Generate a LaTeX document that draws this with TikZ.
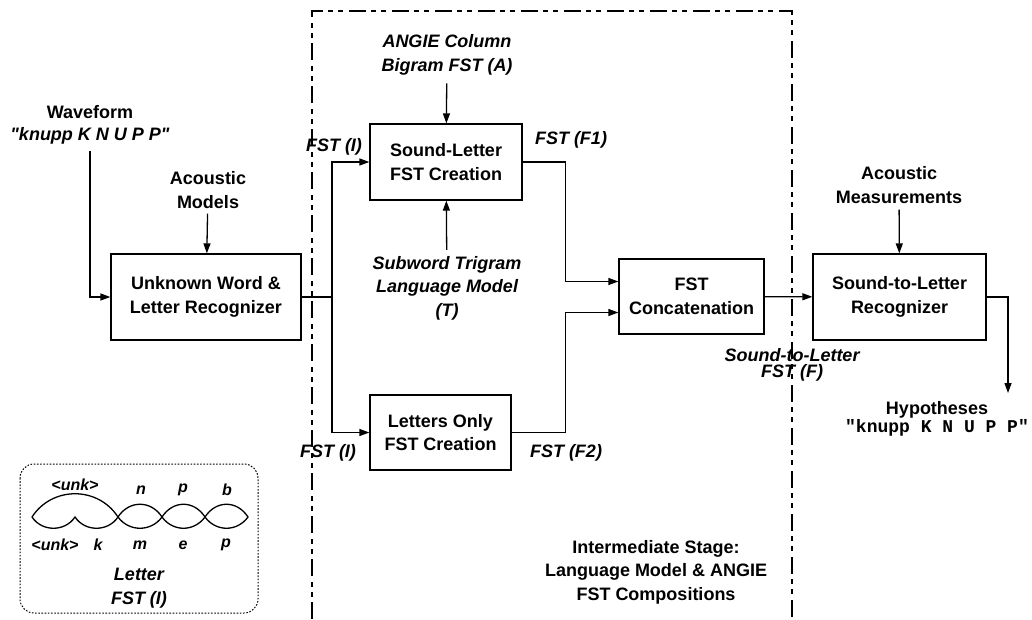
\documentclass[tikz,border=0pt]{standalone}
\usepackage{fontspec}
\setmainfont{Liberation Sans}
\setmonofont{Liberation Mono}
\usetikzlibrary{positioning, arrows.meta, calc}

\begin{document}
\begin{tikzpicture}[
    x=1pt, y=-1pt,
    % Node styles
    block/.style={
        rectangle,
        draw=black,
        line width=1.3pt,
        minimum width=#1,
        align=center,
        inner sep=0pt,
        font=\fontsize{18}{23.5}\selectfont\bfseries
    },
    block/.default=150pt,
    note/.style={
        align=center,
        inner sep=2pt,
        font=\fontsize{18}{23.5}\selectfont\bfseries
    },
    inlabel/.style={
        align=center,
        inner sep=2pt,
        font=\fontsize{18}{23.5}\selectfont\bfseries\itshape
    },
    fstlabel/.style={
        inner sep=0pt,
        font=\fontsize{16}{20}\selectfont\bfseries\itshape
    },
    arrow/.style={
        -{Triangle[length=10pt, width=7pt]},
        line width=1.3pt
    },
    stageline/.style={
        line width=1.2pt,
        dash pattern=on 17pt off 5pt on 5pt off 5pt on 5pt off 6pt
    },
    dotbox/.style={
        line width=1pt,
        dash pattern=on 1.6pt off 1.6pt,
        rounded corners=14pt
    },
    lens/.style={line width=1.3pt}
]
\useasboundingbox (0,0) rectangle (1032,619);

% Intermediate stage frame (open at the bottom)
\draw[stageline] (312,619) |- (792,11) -- (792,619);

% Blocks
\node[block=190pt, minimum height=86pt] (unkrec) at (206,297) {Unknown Word \&\\Letter Recognizer};
\node[block=152pt, minimum height=76pt] (slcreate) at (446,162) {Sound-Letter\\FST Creation};
\node[block=141pt, minimum height=75pt] (locreate) at (440.5,432.5) {Letters Only\\FST Creation};
\node[block=145pt, minimum height=75pt] (fstcat) at (691.5,296.5) {FST\\Concatenation};
\node[block=173pt, minimum height=86pt] (stlrec) at (899.5,297) {Sound-to-Letter\\Recognizer};

% Inputs and outputs
\node[note] (waveform) at (90,125) {Waveform\\[-1pt]{\itshape \textquotedbl knupp K N U P P\textquotedbl}};
\node[note] (acmodels) at (208,190) {Acoustic\\Models};
\node[inlabel] (angiebg) at (447,55) {ANGIE Column\\Bigram FST (A)};
\node[inlabel] (subwlm) at (447,288) {Subword Trigram\\Language Model\\(T)};
\node[note] (acmeas) at (899,185) {Acoustic\\Measurements};
\node[note] (hyps) at (937,419) {Hypotheses\\[-6pt]{\ttfamily "knupp K N U P P"}};
\node[note] (stagelbl) at (656,572) {Intermediate Stage:\\Language Model \& ANGIE\\FST Compositions};

% Connector labels
\node[inlabel] (fsti1) at (334,147) {FST (I)};
\node[inlabel] (fsti2) at (328,453) {FST (I)};
\node[inlabel] (fstf1) at (571,140) {FST (F1)};
\node[inlabel] (fstf2) at (566,453) {FST (F2)};
\node[inlabel] (fstf) at (792,365) {Sound-to-Letter\\[-7pt]FST (F)};

% Helper points
\coordinate (split) at (332,297);
\coordinate (hypin) at (1008,393);

% Arrows
\draw[arrow] ([yshift=-4pt]waveform.south) |- (unkrec.west);
\draw[arrow, shorten <=3pt] (acmodels) -- (unkrec);
\draw[line width=1.3pt] (unkrec.east) -- (split);
\draw[arrow] (split) |- (slcreate.west);
\draw[arrow] (split) |- (locreate.west);
\draw[arrow, shorten <=6pt] (angiebg) -- (slcreate);
\draw[arrow, shorten <=4pt] (subwlm) -- (slcreate);
\draw[arrow] (slcreate.east) -- ++(43,0) |- ([yshift=15pt]fstcat.west);
\draw[arrow] (locreate.east) -- ++(54,0) |- ([yshift=-16pt]fstcat.west);
\draw[arrow] (fstcat) -- (stlrec);
\draw[arrow, shorten <=4pt] (acmeas) -- (stlrec);
\draw[arrow] (stlrec.east) -| (hypin);

% Letter FST (I) inset
\draw[dotbox] (20,464) rectangle (258,613);
\draw[lens] (32,517) .. controls +(20,-31) and +(-20,-31) .. (118,517);
\draw[lens] (32,517) .. controls +(10,15) and +(-10,15) .. (75,517)
                     .. controls +(10,15) and +(-10,15) .. (118,517);
\foreach \xa/\xb in {118/162, 162/205, 205/248} {
    \draw[lens] (\xa,517) .. controls +(11,-17) and +(-11,-17) .. (\xb,517)
                          .. controls +(-11,15) and +(11,15) .. (\xa,517);
}
\node[fstlabel] (unkup) at (75,485) {<unk>};
\node[fstlabel] (nup) at (141,490) {n};
\node[fstlabel] (pup) at (183,490) {p};
\node[fstlabel] (bup) at (227,490) {b};
\node[fstlabel] (unkdn) at (55,545) {<unk>};
\node[fstlabel] (kdn) at (98,545) {k};
\node[fstlabel] (mdn) at (140,545) {m};
\node[fstlabel] (edn) at (183,545) {e};
\node[fstlabel] (pdn) at (226,545) {p};
\node[inlabel] (letterfst) at (139,588) {Letter\\FST (I)};

\end{tikzpicture}
\end{document}
